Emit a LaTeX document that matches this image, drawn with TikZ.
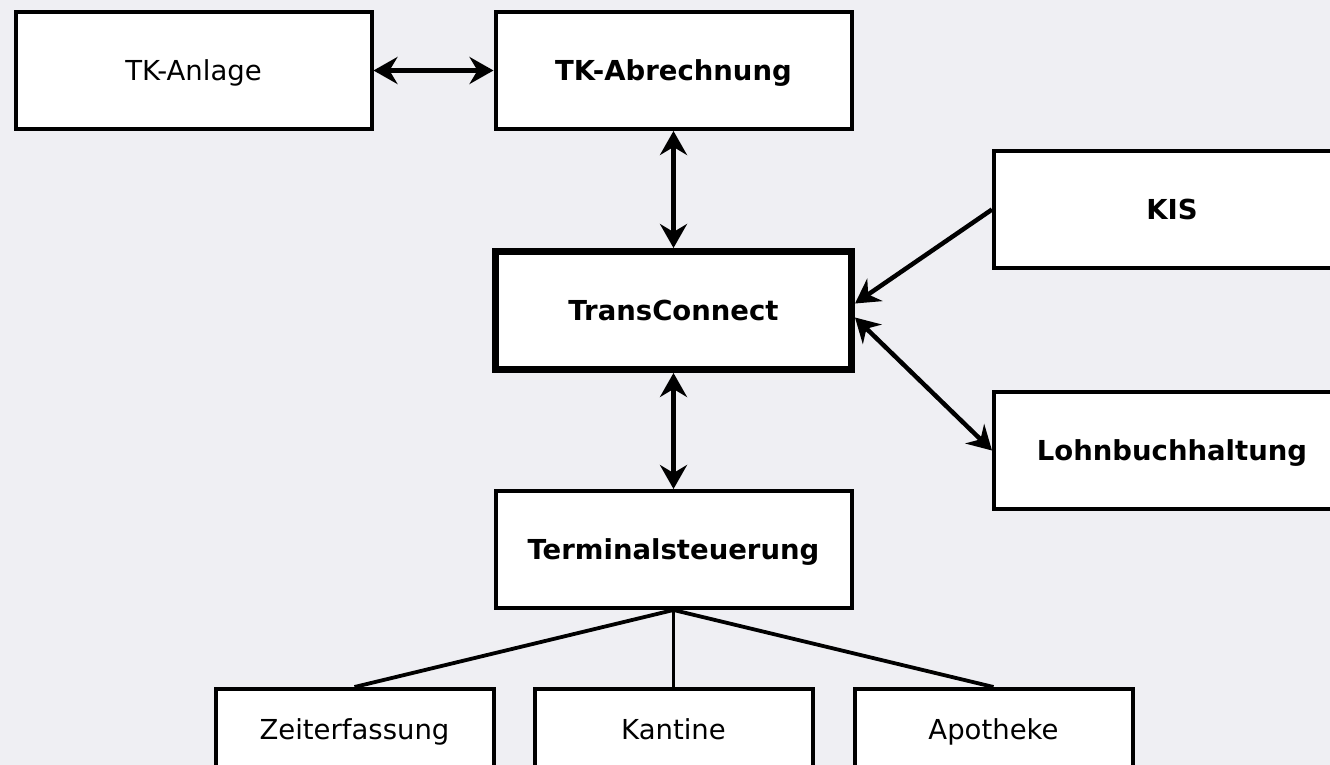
\documentclass[tikz,border=0pt]{standalone}
\usepackage{fontspec}
\setmainfont{DejaVu Sans}
\usepackage{tikz}
\usetikzlibrary{positioning,arrows.meta}
\definecolor{bgcol}{RGB}{239,239,243}
\newcommand{\boxfont}{\fontsize{13.75}{16}\selectfont}
\tikzset{
  box/.style={rectangle, draw, fill=white, line width=2pt, minimum width=178pt, minimum height=58.5pt, inner sep=2pt, text height=10pt, text depth=0pt, font=\boxfont},
  main/.style={font=\boxfont\bfseries},
  heavy/.style={line width=3.5pt, minimum width=178pt, minimum height=59pt},
  small/.style={minimum width=139pt, minimum height=40pt},
  both/.style={<->, line width=2.25pt, >={Stealth[length=12pt,width=13.5pt,inset=4pt]}},
  fwd/.style={->, line width=2.25pt, >={Stealth[length=12pt,width=13.5pt,inset=4pt]}},
  plain/.style={line width=1.9pt},
}
\begin{document}
\begin{tikzpicture}
  \useasboundingbox (0,0) rectangle (665pt,-382.5pt);
  \clip (0,0) rectangle (665pt,-382.5pt);
  \fill[bgcol] (0,0) rectangle (665pt,-382.5pt);

  \node[box] (anlage) at (96.75pt,-35.25pt) {TK-Anlage};
  \node[box, main] (abrechnung) [right=60pt of anlage] {TK-Abrechnung};
  \node[box, main, heavy] (trans) [below=58.5pt of abrechnung] {TransConnect};
  \node[box, main] (terminal) [below=58pt of trans] {Terminalsteuerung};
  \node[box, main] (kis) [right=68.5pt of trans, yshift=50.5pt] {KIS};
  \node[box, main] (lohn) [below=60pt of kis] {Lohnbuchhaltung};
  \node[box, small] (kantine) [below=38.5pt of terminal] {Kantine};
  \node[box, small] (zeit) [left=18.5pt of kantine] {Zeiterfassung};
  \node[box, small] (apotheke) [right=19pt of kantine] {Apotheke};

  \draw[both] (anlage.east) -- (abrechnung.west);
  \draw[both] (abrechnung.south) -- (trans.north);
  \draw[both] (trans.south) -- (terminal.north);
  \draw[fwd] (kis.west) -- ([yshift=3.5pt]trans.east);
  \draw[both] ([yshift=-3.5pt]trans.east) -- (lohn.west);

  \draw[plain] (terminal.south) -- (zeit.north);
  \draw[plain] (terminal.south) -- (kantine.north);
  \draw[plain] (terminal.south) -- (apotheke.north);
\end{tikzpicture}
\end{document}
